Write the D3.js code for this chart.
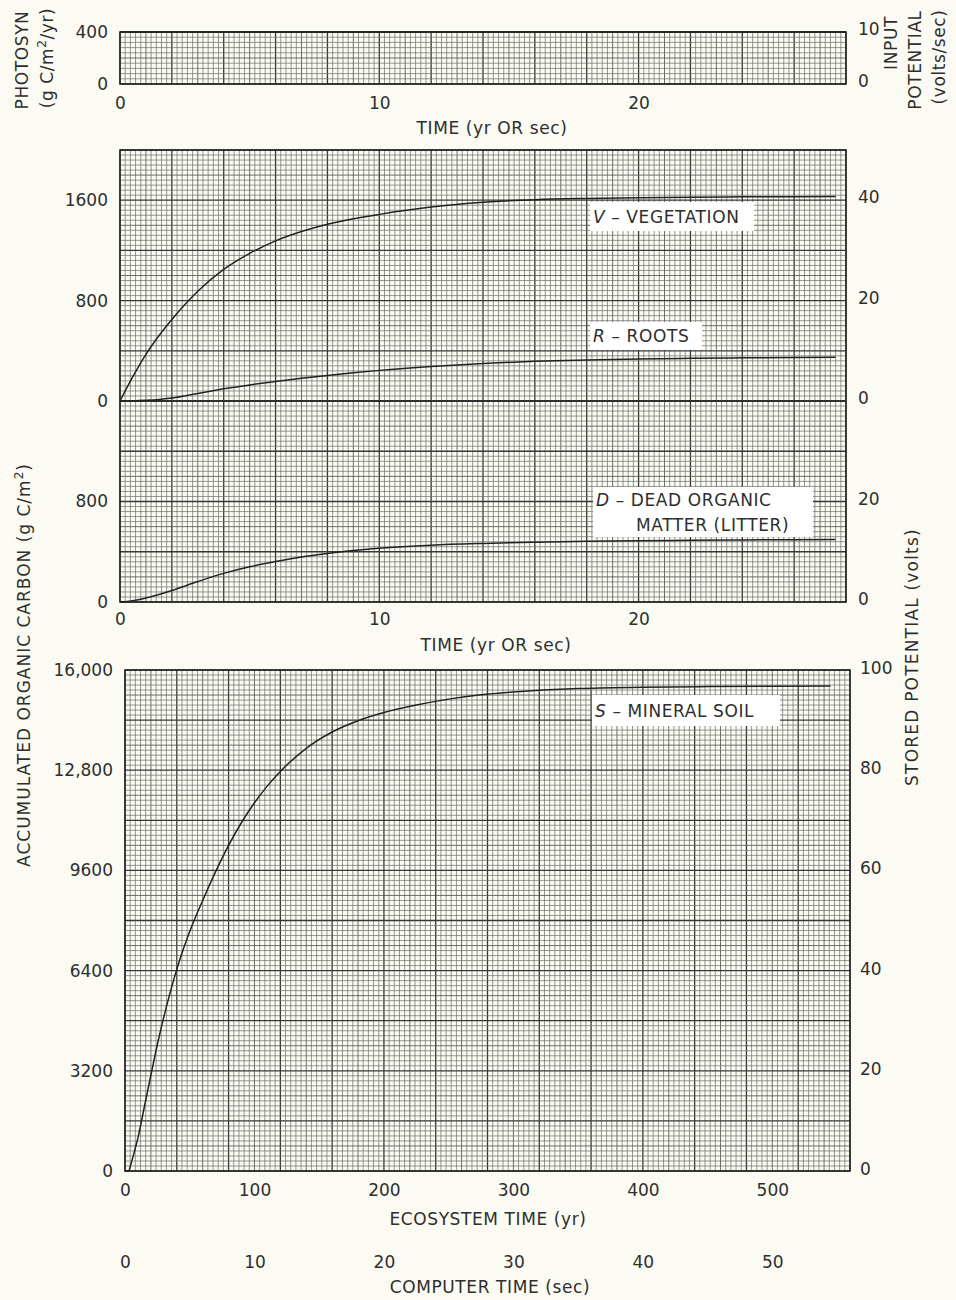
<!DOCTYPE html>
<html><head><meta charset="utf-8">
<script src="https://cdn.jsdelivr.net/npm/d3@7"></script>
<style>
body{margin:0;background:#fbfbf3;}
svg{display:block;}
text{font-family:"DejaVu Sans",sans-serif;fill:#2e2e2e;}
</style></head><body>
<svg id="c" width="956" height="1300"></svg>
<script>
// ---------- data ----------
const timeMid = [0,0.5,1,1.5,2,3,4,5,6,7,8,9,10,12,14,16,18,20,22,24,26,27.6];
const vegetation = [0,196,372,520,650,875,1048,1176,1276,1350,1408,1452,1487,1545,1583,1604,1614,1620,1624,1627,1628,1629];
const roots = [0,1,5,12,24,60,97,128,156,181,204,225,244,275,299,316,327,335,340,344,347,349];
const deadOrganic = [0,10,32,60,92,163,228,280,322,358,386,410,428,452,466,476,483,488,491,494,496,497];
const timePhot = [0,28];
const photosyn = [400,400];
const timeEco = [0,2.5,5,7.5,10,15,20,25,30,35,40,45,50,60,70,80,90,100,110,120,140,160,180,200,225,250,275,300,350,400,450,500,545];
const soil = [0,0,280,660,1060,2060,3060,4040,4920,5720,6440,7080,7650,8640,9560,10400,11130,11760,12300,12760,13500,14020,14380,14640,14880,15070,15210,15300,15410,15450,15470,15485,15490];

const timeTicks = [0,10,20];
const photTicks = [0,400];
const inputTicks = [0,10];
const vrTicks = [0,800,1600];
const dTicks = [0,800];
const voltVRTicks = [0,20,40];
const voltDTicks = [0,20];
const soilTicks = [0,3200,6400,9600,12800,16000];
const soilTickLabels = ["0","3200","6400","9600","12,800","16,000"];
const voltSoilTicks = [0,20,40,60,80,100];
const ecoTicks = [0,100,200,300,400,500];
const compTicks = [0,10,20,30,40,50];

// ---------- scales ----------
const svg = d3.select("#c");
const xMid = d3.scaleLinear([0,28],[120,846]);
const yPhot = d3.scaleLinear([0,400],[84,32]);
const yInput = d3.scaleLinear([0,10],[84,32]);
const yVR = d3.scaleLinear([0,2000],[401,150]);
const yVoltVR = d3.scaleLinear([0,50],[401,150]);
const yD = d3.scaleLinear([0,1600],[602,401]);
const yVoltD = d3.scaleLinear([0,40],[602,401]);
const xEco = d3.scaleLinear([0,560],[125,850]);
const xComp = d3.scaleLinear([0,56],[125,850]);
const yS = d3.scaleLinear([0,16000],[1171,670]);
const yVoltS = d3.scaleLinear([0,100],[1171,670]);

const gridG = svg.append("g");
function grid(xs, ys, xStep, yStep, xMajorEvery, yMajorEvery){
  const [x0,x1] = xs.domain(), [y0,y1] = ys.domain();
  const nx = Math.round((x1-x0)/xStep), ny = Math.round((y1-y0)/yStep);
  const style = (i, every) => i % every === 0 ? {c:"#383838",w:1.3} : (i % (every/2) === 0 ? {c:"#555",w:0.85} : {c:"#6c6c6c",w:0.7});
  for(let i=0;i<=nx;i++){
    const x = xs(x0+i*xStep), s = style(i,xMajorEvery);
    gridG.append("line").attr("x1",x).attr("x2",x).attr("y1",ys(y0)).attr("y2",ys(y1))
      .attr("stroke",s.c).attr("stroke-width",s.w);
  }
  for(let j=0;j<=ny;j++){
    const y = ys(y0+j*yStep), s = style(j,yMajorEvery);
    gridG.append("line").attr("x1",xs(x0)).attr("x2",xs(x1)).attr("y1",y).attr("y2",y)
      .attr("stroke",s.c).attr("stroke-width",s.w);
  }
}
grid(xMid, yPhot, 0.2, 40, 10, 10);
grid(xMid, yVR, 0.2, 40, 10, 10);
grid(xMid, yD, 0.2, 40, 10, 10);
grid(xEco, yS, 4, 160, 10, 10);

// frames
function frame(xs, yTop, yBot){
  svg.append("rect").attr("x",xs.range()[0]).attr("y",yTop).attr("width",xs.range()[1]-xs.range()[0])
    .attr("height",yBot-yTop).attr("fill","none").attr("stroke","#2a2a2a").attr("stroke-width",1.6);
}
frame(xMid, 32, 84);
frame(xMid, 150, 602);
frame(xEco, 670, 1171);
svg.append("line").attr("x1",120).attr("x2",846).attr("y1",yVR(0)).attr("y2",yVR(0)).attr("stroke","#2a2a2a").attr("stroke-width",1.5);

// curves
function curve(xs, ys, t, v){
  const line = d3.line().x((d,i)=>xs(t[i])).y(d=>ys(d)).curve(d3.curveMonotoneX);
  svg.append("path").attr("d",line(v)).attr("fill","none").attr("stroke","#222").attr("stroke-width",1.5);
}
curve(xMid, yPhot, timePhot, photosyn);
curve(xMid, yVR, timeMid, vegetation);
curve(xMid, yVR, timeMid, roots);
curve(xMid, yD, timeMid, deadOrganic);
curve(xEco, yS, timeEco, soil);

// axes
const FS = 17;
const fmt = d3.format("d");
function axis(gen, tx, ty, dy){
  const g = svg.append("g").attr("transform",`translate(${tx},${ty})`).call(gen);
  g.select(".domain").remove();
  g.selectAll("line").remove();
  g.selectAll("text").style("font-size",FS+"px").style("font-family","DejaVu Sans").attr("fill","#2e2e2e");
  if(dy) g.selectAll("text").attr("dy", dy);
  return g;
}
axis(d3.axisLeft(yPhot).tickValues(photTicks).tickFormat(fmt).tickSize(0).tickPadding(12), 120, 0);
axis(d3.axisRight(yInput).tickValues(inputTicks).tickFormat(fmt).tickSize(0).tickPadding(12), 846, 0, "0.15em");
axis(d3.axisBottom(xMid).tickValues(timeTicks).tickFormat(fmt).tickSize(0).tickPadding(13), 0, 84);
axis(d3.axisLeft(yVR).tickValues(vrTicks).tickFormat(fmt).tickSize(0).tickPadding(12), 120, 0);
axis(d3.axisLeft(yD).tickValues(dTicks).tickFormat(fmt).tickSize(0).tickPadding(12), 120, 0);
axis(d3.axisRight(yVoltVR).tickValues(voltVRTicks).tickFormat(fmt).tickSize(0).tickPadding(12), 846, 0, "0.15em");
axis(d3.axisRight(yVoltD).tickValues(voltDTicks).tickFormat(fmt).tickSize(0).tickPadding(12), 846, 0, "0.15em");
axis(d3.axisBottom(xMid).tickValues(timeTicks).tickFormat(fmt).tickSize(0).tickPadding(11), 0, 602);
axis(d3.axisLeft(yS).tickValues(soilTicks).tickFormat((d,i)=>soilTickLabels[i]).tickSize(0).tickPadding(12), 125, 0);
axis(d3.axisRight(yVoltS).tickValues(voltSoilTicks).tickFormat(fmt).tickSize(0).tickPadding(10), 850, 0, "0.2em");
axis(d3.axisBottom(xEco).tickValues(ecoTicks).tickFormat(fmt).tickSize(0).tickPadding(13), 0, 1171);
axis(d3.axisBottom(xComp).tickValues(compTicks).tickFormat(fmt).tickSize(0).tickPadding(0), 0, 1256);

// titles
function title(x, y, rot, ls){
  return svg.append("text").attr("text-anchor","middle").style("font-size",FS+"px")
    .style("letter-spacing",(ls||0.6)+"px")
    .attr("transform",`translate(${x},${y})${rot?` rotate(${rot})`:""}`).attr("dy","0.35em");
}
title(492, 128).text("TIME (yr OR sec)");
title(496, 645).text("TIME (yr OR sec)");
title(488, 1219).text("ECOSYSTEM TIME (yr)");
title(490, 1287).text("COMPUTER TIME (sec)");
title(22, 60, -90).text("PHOTOSYN");
{ const t = title(47, 58, -90);
  t.append("tspan").text("(g C/m");
  t.append("tspan").text("2").attr("baseline-shift","super").style("font-size","12px");
  t.append("tspan").text("/yr)"); }
{ const t = title(24, 665, -90, 1);
  t.append("tspan").text("ACCUMULATED ORGANIC CARBON (g C/m");
  t.append("tspan").text("2").attr("baseline-shift","super").style("font-size","12px");
  t.append("tspan").text(")"); }
title(891, 43, -90).text("INPUT");
title(915, 60, -90).text("POTENTIAL");
title(939, 57, -90).text("(volts/sec)");
title(912, 657, -90, 1.2).text("STORED POTENTIAL (volts)");

// series labels
function label(x, y, w, h, letter, lines){
  svg.append("rect").attr("x",x).attr("y",y).attr("width",w).attr("height",h).attr("fill","#ffffff");
  lines.forEach((ln,i)=>{
    const t = svg.append("text").attr("x",x+3+(ln.indent||0)).attr("y",y+h/lines.length*(i+0.5)).attr("dy","0.36em")
      .style("font-size",FS+"px").style("letter-spacing","0.6px");
    if(i===0){ t.append("tspan").text(letter).style("font-style","italic"); t.append("tspan").text(" \u2013 "); }
    t.append("tspan").text(ln.text);
  });
}
label(590, 202, 164, 29, "V", [{text:"VEGETATION"}]);
label(590, 322, 112, 28, "R", [{text:"ROOTS"}]);
label(593, 487, 220, 50, "D", [{text:"DEAD ORGANIC"},{text:"MATTER (LITTER)", indent:40}]);
label(592, 695, 188, 31, "S", [{text:"MINERAL SOIL"}]);
</script>
</body></html>
